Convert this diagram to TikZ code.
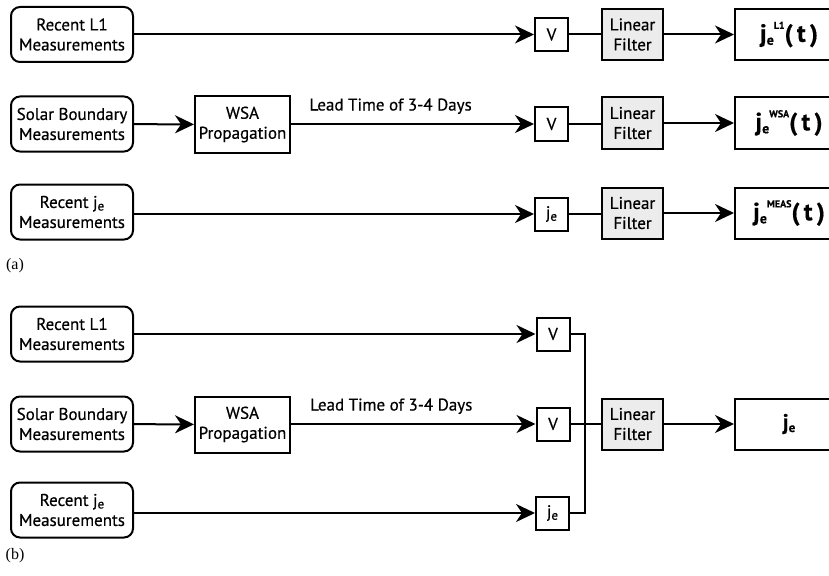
\documentclass[tikz,border=0pt]{standalone}
\usepackage{fontspec}
\setmainfont{PT Sans}[FakeBold=0.5]
\newfontfamily\lblfont{Liberation Serif}
\usetikzlibrary{arrows.meta}

% sizes for the output labels
\newcommand{\bigj}{\fontsize{25}{25}\selectfont}
\newcommand{\subsz}{\fontsize{14}{14}\selectfont}
\newcommand{\supsz}{\fontsize{10}{10}\selectfont}
\newcommand{\outlabel}[1]{\bfseries{\bigj j}\raisebox{-3pt}{\subsz e}\raisebox{13pt}{\supsz #1}{\bigj(\,t\,)}}
\newcommand{\je}{j\raisebox{-2.5pt}{\fontsize{13}{13}\selectfont e}}

\tikzset{
  base/.style={draw, line width=2pt, align=center, inner sep=0pt,
    font=\fontsize{17}{20}\selectfont},
  srcbox/.style={base, rounded corners=9pt, minimum width=122pt, minimum height=55pt},
  procbox/.style={base, minimum width=95pt, minimum height=56pt},
  varbox/.style={base, minimum width=33pt, minimum height=33pt},
  filtbox/.style={base, fill=gray!15, minimum width=61pt, minimum height=51pt},
  outbox/.style={base, minimum width=108pt, minimum height=51pt},
  flow/.style={line width=2pt, -{Stealth[length=19pt,width=18pt,inset=6pt]}},
  wire/.style={line width=2pt},
  note/.style={font=\fontsize{17}{20}\selectfont, inner sep=0pt},
  panel/.style={font=\lblfont\fontsize{16}{16}\selectfont, inner sep=0pt}
}

\begin{document}
\begin{tikzpicture}[x=1pt, y=-1pt]
\useasboundingbox (0,0) rectangle (829,575);
\clip (0,0) rectangle (829,575);

% ---------- (a): three separate filters ----------
\node[srcbox] (a1) at (72,34.5) {Recent L1\\Measurements};
\node[srcbox] (a2) at (72,124) {Solar Boundary\\Measurements};
\node[procbox] (aw) at (242.5,124.5) {WSA\\Propagation};
\node[srcbox] (a3) at (72,212) {Recent \je\\Measurements};

\node[varbox] (av1) at (551.5,34.5) {V};
\node[varbox] (av2) at (551.5,124) {V};
\node[varbox] (av3) at (551.5,214) {\je};

\node[filtbox] (af1) at (632.5,34.5) {Linear\\Filter};
\node[filtbox] (af2) at (632.5,123) {Linear\\Filter};
\node[filtbox] (af3) at (632.5,213) {Linear\\Filter};

\node[outbox] (ao1) at (789,34.5) {\outlabel{L1}};
\node[outbox] (ao2) at (789,123) {\outlabel{WSA}};
\node[outbox] (ao3) at (789,213) {\outlabel{MEAS}};

\draw[flow] (a1) -- (av1);
\draw[flow] (a2) -- (aw);
\draw[flow] (aw.east |- av2) -- node[note, pos=0.41, above=9pt] {Lead Time of 3-4 Days} (av2);
\draw[flow] (a3.east |- av3) -- (av3);
\draw[wire] (av1) -- (af1);
\draw[wire] (av2) -- (af2.west |- av2);
\draw[wire] (av3) -- (af3.west |- av3);
\draw[flow] (af1) -- (ao1);
\draw[flow] (af2) -- (ao2);
\draw[flow] (af3) -- (ao3);

\node[panel] (la) at (15,266) {(a)};

% ---------- (b): one combined filter ----------
\node[srcbox] (b1) at (72,334) {Recent L1\\Measurements};
\node[srcbox] (b2) at (72,424) {Solar Boundary\\Measurements};
\node[procbox] (bw) at (242.5,424.5) {WSA\\Propagation};
\node[srcbox] (b3) at (72,510) {Recent \je\\Measurements};

\node[varbox] (bv1) at (553,334) {V};
\node[varbox] (bv2) at (553,424) {V};
\node[varbox] (bv3) at (552.5,513) {\je};

\node[filtbox] (bf) at (632.5,424) {Linear\\Filter};
\node[outbox] (bo) at (789,424) {\fontsize{22}{22}\selectfont\bfseries\je};

\coordinate (bus1) at (585,334);
\coordinate (bus3) at (585,513);

\draw[flow] (b1) -- (bv1);
\draw[flow] (b2) -- (bw);
\draw[flow] (bw.east |- bv2) -- node[note, pos=0.41, above=9pt] {Lead Time of 3-4 Days} (bv2);
\draw[flow] (b3.east |- bv3) -- (bv3);
\draw[wire] (bv1) -- (bus1) -- (bus3) -- (bv3);
\draw[wire] (bv2) -- (bf);
\draw[flow] (bf) -- (bo);

\node[panel] (lb) at (15,556) {(b)};
\end{tikzpicture}
\end{document}
